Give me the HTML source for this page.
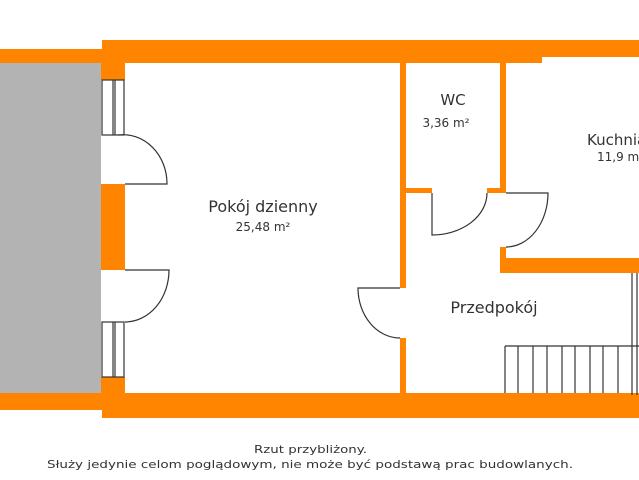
<!DOCTYPE html>
<html><head><meta charset="utf-8"><style>
html,body{margin:0;padding:0;background:#fff;}
svg{display:block;}
text{font-family:"DejaVu Sans","Liberation Sans",sans-serif;fill:#333;}
</style></head><body>
<svg width="639" height="480" viewBox="0 0 639 480" xmlns="http://www.w3.org/2000/svg">
<rect width="639" height="480" fill="#fff"/>
<rect x="0" y="63" width="101" height="330" fill="#b3b3b3"/>
<g fill="#ff8400">
<rect x="0" y="49" width="102" height="14"/>
<rect x="102" y="40" width="440" height="23"/>
<rect x="542" y="40" width="97" height="17"/>
<rect x="0" y="393" width="102" height="17"/>
<rect x="102" y="393" width="537" height="25"/>
<rect x="101" y="63" width="24" height="17"/>
<rect x="101" y="184" width="24" height="86"/>
<rect x="101" y="377" width="24" height="16"/>
<rect x="400" y="63" width="6" height="225"/>
<rect x="400" y="338" width="6" height="55"/>
<rect x="500" y="63" width="6" height="130"/>
<rect x="500" y="247" width="6" height="26"/>
<rect x="406" y="188" width="26" height="5"/>
<rect x="487" y="188" width="13" height="5"/>
<rect x="500" y="258" width="139" height="15"/>
</g>
<g fill="none" stroke="#333" stroke-width="1.2">
<rect x="102" y="80" width="22" height="55" fill="#fff"/>
<line x1="113" y1="80" x2="113" y2="135"/>
<line x1="115" y1="80" x2="115" y2="135"/>
<rect x="102" y="322" width="22" height="55" fill="#fff"/>
<line x1="113" y1="322" x2="113" y2="377"/>
<line x1="115" y1="322" x2="115" y2="377"/>
<path d="M125,184 L167,184 A44,49 0 0 0 118,135"/>
<path d="M125,270 L169,270 A44,52 0 0 1 125,322"/>
<path d="M400,288 L358,288 A42,50 0 0 0 400,338"/>
<path d="M432,193 L432,235 A55,42 0 0 0 487,193"/>
<path d="M506,193 L548,193 A42,54 0 0 1 506,247"/>
<line x1="505" y1="346" x2="639" y2="346"/>
<line x1="632" y1="273" x2="632" y2="395"/>
<line x1="637" y1="273" x2="637" y2="395"/>
<line x1="505" y1="346" x2="505" y2="393"/>
<line x1="518" y1="346" x2="518" y2="393"/>
<line x1="533" y1="346" x2="533" y2="393"/>
<line x1="547" y1="346" x2="547" y2="393"/>
<line x1="562" y1="346" x2="562" y2="393"/>
<line x1="575" y1="346" x2="575" y2="393"/>
<line x1="590" y1="346" x2="590" y2="393"/>
<line x1="603" y1="346" x2="603" y2="393"/>
<line x1="618" y1="346" x2="618" y2="393"/>
</g>
<text x="263" y="212" font-size="16" text-anchor="middle">Pokój dzienny</text>
<text x="263" y="231" font-size="12" text-anchor="middle">25,48 m²</text>
<text x="453" y="105" font-size="15" text-anchor="middle">WC</text>
<text x="446" y="127" font-size="12" text-anchor="middle">3,36 m²</text>
<text x="587" y="145" font-size="15">Kuchnia</text>
<text x="597" y="161" font-size="12">11,9 m²</text>
<text x="494" y="313" font-size="16" text-anchor="middle">Przedpokój</text>
<text x="254" y="453" font-size="11" textLength="113" lengthAdjust="spacingAndGlyphs">Rzut przybliżony.</text>
<text x="47" y="468" font-size="11" textLength="526" lengthAdjust="spacingAndGlyphs">Służy jedynie celom poglądowym, nie może być podstawą prac budowlanych.</text>
</svg>
</body></html>
